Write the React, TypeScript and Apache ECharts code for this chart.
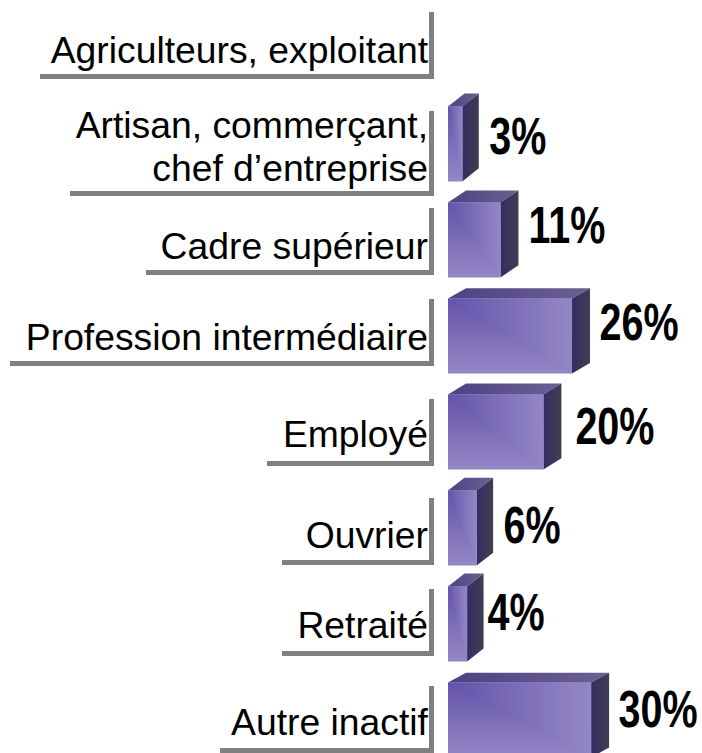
import React, { useEffect, useRef } from "react";
import * as echarts from "echarts";

const categories = [
  "Agriculteurs, exploitant",
  "Artisan, commerçant,\nchef d’entreprise",
  "Cadre supérieur",
  "Profession intermédiaire",
  "Employé",
  "Ouvrier",
  "Retraité",
  "Autre inactif",
];
const shares: (number | null)[] = [null, 3, 11, 26, 20, 6, 4, 30];

// Per-row layout nudges, in pixels, separate from the data
const textNudge = [2, 2, 6, 1, 2, 7, 1, 2];
const bracketBottom = [31, 52, 35, 30, 34, 37, 32, 33];
const underlineLength = [394, 364, 288, 424, 167, 152, 152, 214];
const percentNudgeY = [0, -8.5, -15, -14.5, -6.5, -3.5, -12.5, -11.5];
const percentGapX = [0, 9, 10, 9.5, 14, 9, 2.5, 9.5];

const FONT = "'Liberation Sans', Arial, sans-serif";
const GRAY = "#808080";

const lg = (x2: number, y2: number, a: string, b: string) =>
  new echarts.graphic.LinearGradient(0, 0, x2, y2, [
    { offset: 0, color: a },
    { offset: 1, color: b },
  ]);

export default function App() {
  const ref = useRef<HTMLDivElement>(null);
  useEffect(() => {
    const chart = echarts.init(ref.current!, undefined, { renderer: "svg" });
    chart.setOption({
      animation: false,
      grid: { left: 448, top: 0, width: 238.5, height: 768 },
      xAxis: { type: "value", min: 0, max: 50, show: false },
      yAxis: { type: "category", data: categories, inverse: true, show: false },
      series: [
        {
          type: "custom",
          name: "Libellés",
          silent: true,
          data: categories.map((_, i) => [0, i]),
          encode: { x: 0, y: 1 },
          renderItem: (params: any, api: any) => {
            const i = api.value(1);
            const [x0, cy] = api.coord([0, i]);
            const right = x0 - 14;
            const bottom = cy + bracketBottom[i];
            const lines = categories[i].split("\n").length;
            const top = bottom - (lines > 1 ? 85 : 67);
            const t = 5;
            return {
              type: "group",
              children: [
                {
                  type: "polygon",
                  shape: {
                    points: [
                      [right - t, top],
                      [right, top],
                      [right, bottom],
                      [right - underlineLength[i], bottom],
                      [right - underlineLength[i], bottom - t],
                      [right - t, bottom - t],
                    ],
                  },
                  style: { fill: GRAY },
                },
                {
                  type: "text",
                  x: x0 - 20,
                  y: cy + textNudge[i],
                  style: {
                    text: categories[i],
                    font: `37.3px ${FONT}`,
                    fill: "#000",
                    align: "right",
                    verticalAlign: "middle",
                    lineHeight: 43,
                  },
                },
              ],
            };
          },
        },
        {
          type: "custom",
          name: "Part",
          silent: true,
          data: shares.map((v, i) => [v, i]).filter((d) => d[0] != null),
          encode: { x: 0, y: 1 },
          renderItem: (params: any, api: any) => {
            const v = api.value(0);
            const i = api.value(1);
            const [x0, cy] = api.coord([0, i]);
            const [x1] = api.coord([v, i]);
            const h = api.size([0, 1])[1] * 0.78;
            const top = cy - h / 2;
            const bot = cy + h / 2;
            const dx = v < 10 ? 16.5 : 18;
            const dy = 13.5 - v * 0.12;
            return {
              type: "group",
              children: [
                {
                  type: "polygon",
                  shape: { points: [[x0, top], [x0 + dx, top - dy], [x1 + dx, top - dy], [x1, top]] },
                  style: { fill: lg(1, 0, "#4d4283", "#6b6093") },
                },
                {
                  type: "polygon",
                  shape: { points: [[x1, top], [x1 + dx, top - dy], [x1 + dx, bot - dy], [x1, bot]] },
                  style: { fill: lg(1, 0, "#332d62", "#403e52") },
                },
                {
                  type: "rect",
                  shape: { x: x0, y: top, width: x1 - x0, height: h },
                  style: { fill: lg(0, 1, "#6453ab", "#9487c5") },
                },
                {
                  type: "polygon",
                  shape: { points: [[x0, top], [x1, top], [x1, bot]] },
                  style: { fill: lg(1, 0, "#6453ab", "#9487c5") },
                },
                {
                  type: "text",
                  x: x1 + 18 + percentGapX[i],
                  y: cy + percentNudgeY[i],
                  scaleX: 0.76,
                  style: {
                    text: `${v}%`,
                    font: `bold 52px ${FONT}`,
                    fill: "#000",
                    align: "left",
                    verticalAlign: "middle",
                  },
                },
              ],
            };
          },
        },
      ],
    });
    return () => chart.dispose();
  }, []);
  return (
    <div style={{ position: "absolute", left: 0, top: 0, width: 702, height: 753, overflow: "hidden" }}>
      <div ref={ref} style={{ width: 702, height: 768 }} />
    </div>
  );
}
